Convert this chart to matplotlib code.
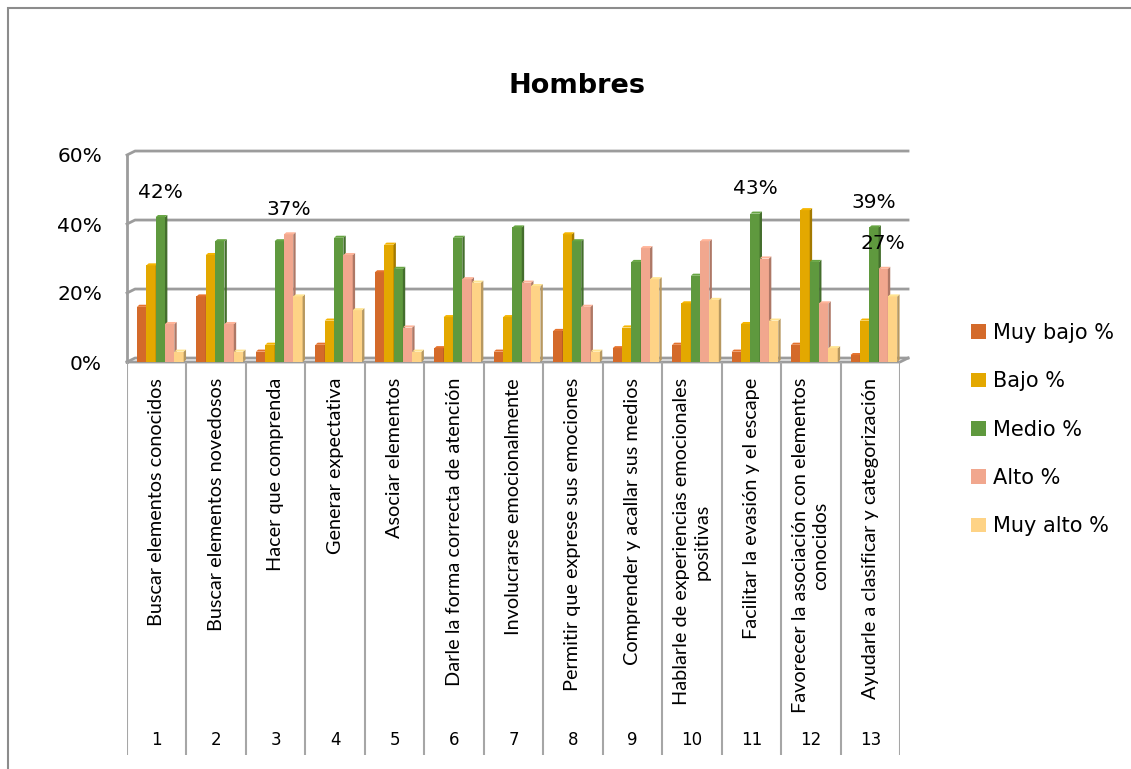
import matplotlib.pyplot as plt
import matplotlib.colors as mcolors
from matplotlib.patches import Polygon, Rectangle
import numpy as np

plt.rcParams['font.family'] = ['DejaVu Sans']

categories = [
    'Buscar elementos conocidos',
    'Buscar elementos novedosos',
    'Hacer que comprenda',
    'Generar expectativa',
    'Asociar elementos',
    'Darle la forma correcta de atención',
    'Involucrarse emocionalmente',
    'Permitir que exprese sus emociones',
    'Comprender y acallar sus medios',
    'Hablarle de experiencias emocionales\npositivas',
    'Facilitar la evasión y el escape',
    'Favorecer la asociación con elementos\nconocidos',
    'Ayudarle a clasificar y categorización',
]
numbers = list(range(1, 14))

series_names = ['Muy bajo %', 'Bajo %', 'Medio %', 'Alto %', 'Muy alto %']
muy_bajo = [16, 19, 3, 5, 26, 4, 3, 9, 4, 5, 3, 5, 2]
bajo = [28, 31, 5, 12, 34, 13, 13, 37, 10, 17, 11, 44, 12]
medio = [42, 35, 35, 36, 27, 36, 39, 35, 29, 25, 43, 29, 39]
alto = [11, 11, 37, 31, 10, 24, 23, 16, 33, 35, 30, 17, 27]
muy_alto = [3, 3, 19, 15, 3, 23, 22, 3, 24, 18, 12, 4, 19]
colors = ['#D46A2A', '#E3A800', '#5F993E', '#F1A78E', '#FED386']

# (category index, series index) of the bars that carry a value label
labelled = [(0, 2), (2, 3), (10, 2), (12, 2), (12, 3)]

all_series = [muy_bajo, bajo, medio, alto, muy_alto]
grid_c = '#9C9C9C'

fig = plt.figure(figsize=(11.31, 7.69), dpi=100)
fig.patches.append(Rectangle((8 / 1131, -0.1), 1.2, 1 - 8 / 769 + 0.1,
                             transform=fig.transFigure, fill=False,
                             ec='#8C8C8C', lw=1.5))

ax = fig.add_axes([127 / 1131, 1 - 362 / 769, 773 / 1131, 207 / 769])
ax.set_xlim(0, 13)
ax.set_ylim(0, 60)
for s in ax.spines.values():
    s.set_visible(False)
ax.set_xticks([])
ax.set_yticks([0, 20, 40, 60])
ax.set_yticklabels(['0%', '20%', '40%', '60%'])
ax.tick_params(axis='y', length=0, pad=18, labelsize=14.5)

# 3d-ish back wall
dxw, dyw = 0.135, 1.15
for v in [0, 20, 40, 60]:
    ax.plot([0, dxw, 13 + dxw], [v, v + dyw, v + dyw], color=grid_c, lw=2,
            clip_on=False, zorder=0)
ax.plot([0, 0], [0, 60], color=grid_c, lw=2, clip_on=False, zorder=0)
ax.plot([0, 13, 13 + dxw], [0, 0, dyw], color=grid_c, lw=2, clip_on=False, zorder=1)

w, start = 0.157, 0.168
dx, dy = 0.04, 0.6
handles = []
for j, (name, vals, col) in enumerate(zip(series_names, all_series, colors)):
    xs = np.arange(len(vals)) + start + j * w
    rgb = np.array(mcolors.to_rgb(col))
    dark = rgb * 0.72
    light = np.minimum(rgb * 1.08, 1)
    b = ax.bar(xs, vals, width=w, align='edge', color=col, zorder=3 + j, label=name)
    handles.append(b)
    for x, v in zip(xs, vals):
        ax.add_patch(Polygon([(x + w, 0), (x + w + dx, dy), (x + w + dx, v + dy), (x + w, v)],
                             fc=dark, ec='none', zorder=3 + j))
        ax.add_patch(Polygon([(x, v), (x + dx, v + dy), (x + w + dx, v + dy), (x + w, v)],
                             fc=light, ec='none', zorder=3 + j))

for g, s in labelled:
    v = all_series[s][g]
    x = g + start + s * w + w / 2
    ax.annotate(f'{v}%', (x, v), xytext=(0, 18), textcoords='offset points',
                ha='center', va='center', fontsize=14.5, zorder=10)

# category table under the plot
tab = fig.add_axes([127 / 1131, 1 - 755 / 769, 773 / 1131, 393 / 769])
tab.set_xlim(0, 13)
tab.set_ylim(0, 1)
tab.axis('off')
tab.vlines(range(14), 0, 1, color='#A6A6A6', lw=1.5)
for i, (lab, n) in enumerate(zip(categories, numbers)):
    tab.text(i + 0.5, 0.959, lab, rotation=90, ha='center', va='top',
             fontsize=14.3, family=['Lato', 'DejaVu Sans'],
             multialignment='center', linespacing=1.25)
    tab.text(i + 0.5, 0.038, str(n), ha='center', va='center', fontsize=12)

fig.text(577 / 1131, 1 - 86 / 769, 'Hombres', ha='center', va='center',
         fontsize=19.5, fontweight='bold')

fig.legend(handles, series_names, loc='upper left', bbox_to_anchor=(0.8585, 0.580),
           frameon=False, fontsize=15, handlelength=0.72, handleheight=0.72,
           handletextpad=0.33, labelspacing=1.36, borderpad=0, borderaxespad=0)

fig.savefig('out.png', dpi=100)
